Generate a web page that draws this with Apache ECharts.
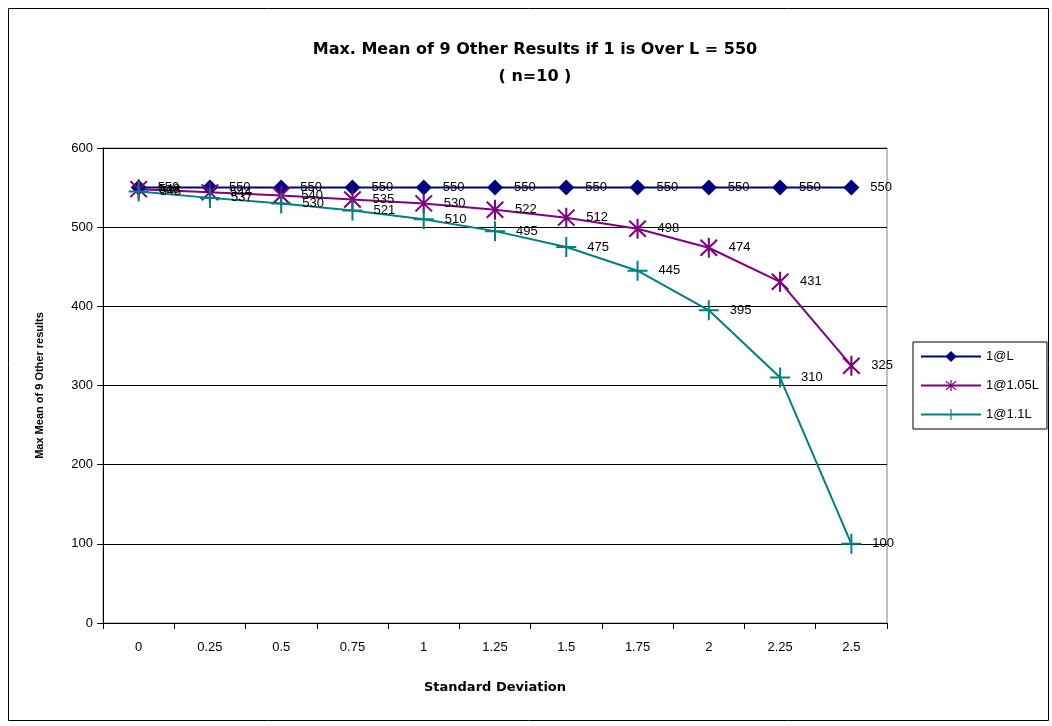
<!DOCTYPE html>
<html>
<head>
<meta charset="utf-8">
<script src="https://cdn.jsdelivr.net/npm/echarts@6/dist/echarts.min.js"></script>
<style>
html,body{margin:0;padding:0;background:#fff;}
#c{width:1052px;height:726px;}
</style>
</head>
<body>
<div id="c"></div>
<script>
var categories = ['0','0.25','0.5','0.75','1','1.25','1.5','1.75','2','2.25','2.5'];
var seriesNames = ['1@L','1@1.05L','1@1.1L'];
var valsL = [550,550,550,550,550,550,550,550,550,550,550];
var vals105 = [548,544,540,535,530,522,512,498,474,431,325];
var vals11 = [545,537,530,521,510,495,475,445,395,310,100];
var yTicks = {min:0, max:600, interval:100};

var plusPath = 'path://M-1,-10H1V10H-1Z M-10,-1H10V1H-10Z';
var starPath = 'path://M-1,-10H1V10H-1Z M-7.3,-8.7L8.7,7.3L7.3,8.7L-8.7,-7.3Z M7.3,-8.7L8.7,-7.3L-7.3,8.7L-8.7,7.3Z';
var font = 'Liberation Sans, Arial, sans-serif';
var wideFont = 'DejaVu Sans, sans-serif';

function mk(name, data, color, symbol, size){
  return {
    name:name, type:'line', data:data, symbol:symbol, symbolSize:size,
    lineStyle:{color:color,width:2}, itemStyle:{color:color},
    label:{show:true, position:'right', distance:11, color:'#000', fontSize:13, fontFamily:font},
    emphasis:{disabled:true}, animation:false
  };
}

var chart = echarts.init(document.getElementById('c'));
chart.setOption({
  animation:false,
  backgroundColor:'#fff',
  title:{
    text:'Max. Mean of 9 Other Results if 1 is Over L = 550\n( n=10 )',
    left:530, top:31, textAlign:'center',
    textStyle:{fontSize:16, fontWeight:'bold', fontFamily:wideFont, color:'#000', lineHeight:27}
  },
  legend:{
    orient:'vertical', left:913, top:342, width:135,
    itemWidth:60, itemHeight:14, itemGap:16,
    padding:[8,8,8,7],
    borderColor:'#000', borderWidth:1,
    textStyle:{fontSize:13, fontFamily:font, color:'#000'},
    data:seriesNames
  },
  grid:{left:103, right:165, top:148, bottom:103, show:true, borderColor:'#808080', borderWidth:1, backgroundColor:'#fff'},
  xAxis:{
    type:'category', data:categories, boundaryGap:true,
    name:'Standard Deviation', nameLocation:'middle', nameGap:58,
    nameTextStyle:{fontSize:13, fontWeight:'bold', fontFamily:wideFont, color:'#000'},
    axisLine:{lineStyle:{color:'#000',width:1}},
    axisTick:{show:true, length:6, inside:false, lineStyle:{color:'#000'}},
    axisLabel:{fontSize:13, fontFamily:font, color:'#000', margin:18}
  },
  yAxis:{
    type:'value', min:yTicks.min, max:yTicks.max, interval:yTicks.interval,
    name:'Max Mean of 9 Other results', nameLocation:'middle', nameGap:58,
    nameTextStyle:{fontSize:11, fontWeight:'bold', fontFamily:font, color:'#000'},
    axisLine:{show:true, lineStyle:{color:'#000',width:1}},
    axisTick:{show:true, length:6, lineStyle:{color:'#000'}},
    axisLabel:{fontSize:13, fontFamily:font, color:'#000', margin:10},
    splitLine:{show:true, lineStyle:{color:'#000',width:1}}
  },
  graphic:[{
    type:'rect', shape:{x:8.5,y:8.5,width:1040,height:712},
    style:{fill:null, stroke:'#000', lineWidth:1}, silent:true, z:-10
  }],
  series:[
    mk(seriesNames[0], valsL, '#000080', 'diamond', 16),
    mk(seriesNames[1], vals105, '#800080', starPath, [18,20]),
    mk(seriesNames[2], vals11, '#008080', plusPath, 20)
  ]
});
</script>
</body>
</html>
